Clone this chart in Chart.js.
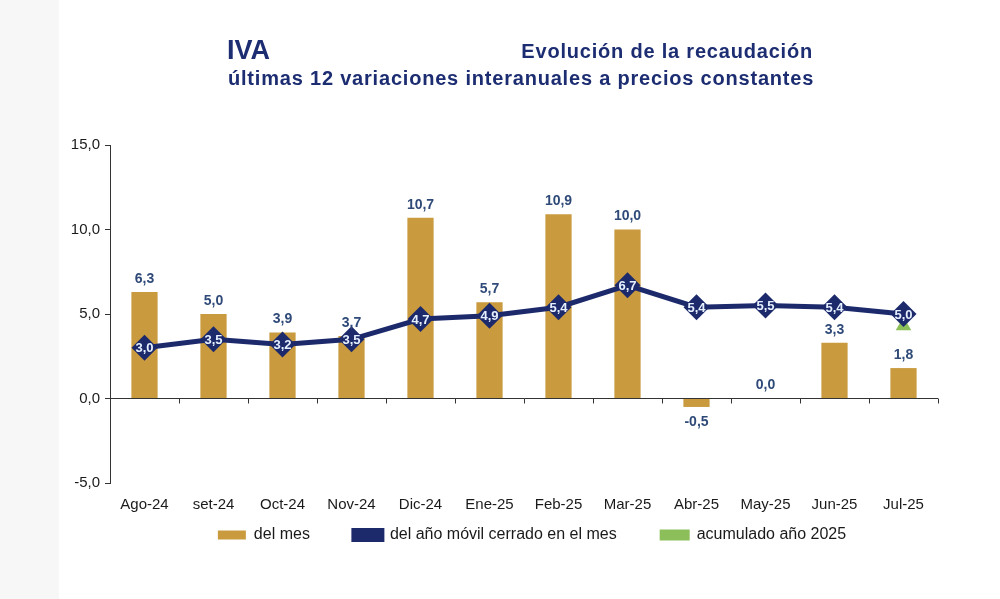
<!DOCTYPE html>
<html>
<head>
<meta charset="utf-8">
<script src="https://cdn.jsdelivr.net/npm/chart.js@4"></script>
<style>
  html, body { margin: 0; padding: 0; }
  body { width: 1000px; height: 599px; position: relative; background: #fff; font-family: "Liberation Sans", Arial, sans-serif; overflow: hidden; }
  .strip { position: absolute; left: 0; top: 0; width: 59px; height: 599px; background: #f7f7f7; }
  .wrap { position: absolute; left: 0; top: 0; width: 1000px; height: 599px; }
  .t { position: absolute; color: #1c2d72; font-weight: bold; white-space: nowrap; }
  #t1 { left: 227px; top: 35px; font-size: 27px; }
  #t2 { right: 187px; top: 40px; font-size: 20px; letter-spacing: 0.8px; }
  #t3 { left: 228px; top: 67px; font-size: 20px; letter-spacing: 0.8px; }
</style>
</head>
<body>
<div class="strip"></div>
<div class="wrap"><canvas id="chart" width="1000" height="599"></canvas></div>
<div class="t" id="t1">IVA</div>
<div class="t" id="t2">Evolución de la recaudación</div>
<div class="t" id="t3">últimas 12 variaciones interanuales a precios constantes</div>
<script>
const months = ['Ago-24', 'set-24', 'Oct-24', 'Nov-24', 'Dic-24', 'Ene-25', 'Feb-25', 'Mar-25', 'Abr-25', 'May-25', 'Jun-25', 'Jul-25'];
const delMes = [6.3, 5.0, 3.9, 3.7, 10.7, 5.7, 10.9, 10.0, -0.5, 0.0, 3.3, 1.8];
const anoMovil = [3.0, 3.5, 3.2, 3.5, 4.7, 4.9, 5.4, 6.7, 5.4, 5.5, 5.4, 5.0];
const acumulado = [null, null, null, null, null, null, null, null, null, null, null, 4.3];
const yTicks = [-5, 0, 5, 10, 15];

const navy = '#1c2a6c';
const gold = '#c99a3e';
const green = '#8cbf5a';
const font = '"Liberation Sans", Arial';

const fmt = v => v.toFixed(1).replace('.', ',');

// small marks on the zero line between categories + value labels
const extras = {
  id: 'extras',
  afterLayout(chart) {
    // legend sits a bit right of centre and close under the axis labels
    const lg = chart.legend;
    lg.left += 33;
    lg.right += 33;
    lg.top -= 32;
    lg.bottom -= 32;
  },
  afterDatasetsDraw(chart) {
    const ctx = chart.ctx;
    const xs = chart.scales.x, ys = chart.scales.y;
    const y0 = ys.getPixelForValue(0);
    ctx.save();
    ctx.strokeStyle = '#333';
    ctx.lineWidth = 1;
    for (let i = 0; i <= months.length; i++) {
      const x = Math.round(xs.getPixelForValue(i - 0.5)) + 0.5;
      ctx.beginPath();
      ctx.moveTo(x, y0);
      ctx.lineTo(x, y0 + 5);
      ctx.stroke();
    }
    // bar labels
    ctx.font = 'bold 14px ' + font;
    ctx.fillStyle = '#2f4a78';
    ctx.textAlign = 'center';
    chart.getDatasetMeta(0).data.forEach((el, i) => {
      const v = delMes[i];
      if (v < 0) {
        ctx.textBaseline = 'top';
        ctx.fillText(fmt(v), el.x, el.y + 8);
      } else {
        ctx.textBaseline = 'bottom';
        ctx.fillText(fmt(v), el.x, el.y - 6);
      }
    });
    // line labels on the diamonds
    ctx.font = 'bold 13px ' + font;
    ctx.fillStyle = '#e6f0ff';
    ctx.textBaseline = 'middle';
    chart.getDatasetMeta(1).data.forEach((el, i) => {
      ctx.fillText(fmt(anoMovil[i]), el.x, el.y + 1);
    });
    ctx.restore();
  }
};

new Chart(document.getElementById('chart'), {
  data: {
    labels: months,
    datasets: [
      {
        type: 'bar',
        label: 'del mes',
        data: delMes,
        backgroundColor: gold,
        barPercentage: 0.38,
        categoryPercentage: 1,
        order: 3
      },
      {
        type: 'line',
        label: 'del año móvil cerrado en el mes',
        data: anoMovil,
        borderColor: navy,
        backgroundColor: navy,
        borderWidth: 5,
        pointStyle: 'rectRot',
        pointRadius: 13,
        pointBackgroundColor: navy,
        pointBorderColor: navy,
        pointBorderWidth: 0,
        tension: 0,
        order: 1
      },
      {
        type: 'line',
        label: 'acumulado año 2025',
        data: acumulado,
        borderColor: green,
        backgroundColor: green,
        borderWidth: 2,
        pointStyle: 'triangle',
        pointRadius: 7,
        pointBackgroundColor: green,
        pointBorderColor: green,
        order: 2
      }
    ]
  },
  options: {
    responsive: false,
    animation: false,
    layout: { padding: { top: 145, left: 60, right: 62, bottom: 14 } },
    scales: {
      x: {
        offset: true,
        grid: { display: false },
        border: { display: false },
        ticks: { color: '#1a1a1a', font: { size: 15, family: font }, padding: 5, maxRotation: 0 },
        afterFit(scale) { scale.height = 32; }
      },
      y: {
        min: -5,
        max: 15,
        afterBuildTicks(scale) { scale.ticks = yTicks.map(v => ({ value: v })); },
        afterFit(scale) { scale.width = 50; },
        grid: {
          color: c => (c.tick && c.tick.value === 0 ? '#333' : 'transparent'),
          tickColor: '#333',
          tickLength: 5,
          drawTicks: true
        },
        border: { display: true, color: '#333' },
        ticks: { color: '#1a1a1a', font: { size: 15, family: font }, padding: 5, callback: v => fmt(v) }
      }
    },
    plugins: {
      legend: {
        position: 'bottom',
        labels: {
          boxWidth: 28,
          boxHeight: 9,
          padding: 44,
          color: '#1a1a1a',
          font: { size: 16, family: font },
          sort: (a, b) => a.datasetIndex - b.datasetIndex
        }
      },
      tooltip: { enabled: false }
    }
  },
  plugins: [extras]
});
</script>
</body>
</html>
